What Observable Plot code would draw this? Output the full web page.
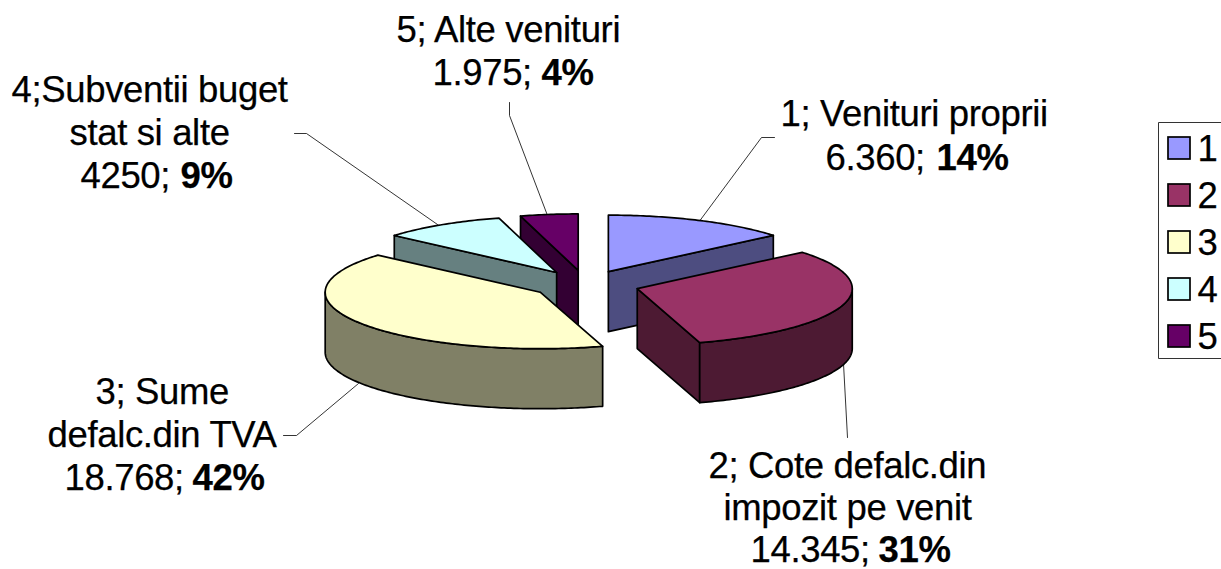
<!DOCTYPE html>
<html>
<head>
<meta charset="utf-8">
<style>html,body{margin:0;padding:0;background:#fff}svg{display:block}svg text{letter-spacing:-0.35px}</style>
<script src="https://cdn.jsdelivr.net/npm/d3@7"></script>
<script src="https://cdn.jsdelivr.net/npm/@observablehq/plot@0.6"></script>
</head>
<body>
<script>
const categories = ["1", "2", "3", "4", "5"];
const values = [6360, 14345, 18768, 4250, 1975];
const topColors = ["#9999ff", "#993366", "#ffffcc", "#ccffff", "#660066"];
const sideColors = ["#4d4d80", "#4d1a33", "#808066", "#668080", "#330033"];
const labelLines = [
  ["1; Venituri proprii"],
  ["2; Cote defalc.din", "impozit pe venit"],
  ["3; Sume", "defalc.din TVA"],
  ["4;Subventii buget", "stat si alte"],
  ["5; Alte venituri"]
];
const labelValues = ["6.360; ", "14.345; ", "18.768; ", "4250; ", "1.975; "];
const labelPercents = ["14%", "31%", "42%", "9%", "4%"];

// Layout
const W = 1221, H = 569, FS = 36.5;
const FONT = "Liberation Sans, Arial, sans-serif";
const cx = 585, cy = 284, rx = 215, ry = 56.5, depth = 60, explode = 54;
const lineAnchors = [
  [[780, 125]],
  [[708, 477], [723, 519]],
  [[95, 403], [47, 446]],
  [[11, 101], [69, 144]],
  [[396, 41]]
];
const valueAnchors = [[825, 169, 936], [750, 561, 878], [64, 489, 192], [80, 187, 180], [432, 84, 541]];
const leaders = [
  [[774, 137], [761, 137], [698, 222]],
  [[847, 437], [843, 363]],
  [[283, 435], [296, 435], [358, 383]],
  [[294, 133], [306, 133], [437, 224]],
  [[509, 102], [509, 115], [547, 215]]
];

const total = d3.sum(values);
const angles = d3.cumsum(values).map(v => v / total * 2 * Math.PI);
const slices = values.map((v, i) => {
  const a0 = i ? angles[i - 1] : 0, a1 = angles[i], mid = (a0 + a1) / 2;
  return {i, a0, a1, x0: cx + explode * Math.sin(mid), y0: cy - explode * (ry / rx) * Math.cos(mid)};
});
const rim = (s, a, dz = 0) => ({x: s.x0 + rx * Math.sin(a), y: s.y0 - ry * Math.cos(a) + dz});
const arc = (s, a0, a1, dz = 0) => {
  const n = Math.max(1, Math.ceil((a1 - a0) / 0.015));
  return d3.range(n + 1).map(k => rim(s, a0 + (a1 - a0) * k / n, dz));
};
const closed = pts => [...pts, pts[0]];
const face = (pts, fill) => Plot.line(closed(pts), {x: "x", y: "y", fill, stroke: "#000", strokeWidth: 1.7, strokeLinejoin: "round", curve: "linear"});

function sliceMarks(s) {
  const apex = {x: s.x0, y: s.y0}, low = {x: s.x0, y: s.y0 + depth}, side = sideColors[s.i], marks = [];
  const visible = [];
  if (Math.sin(s.a0) < -1e-6) visible.push(s.a0);
  if (Math.sin(s.a1) > 1e-6) visible.push(s.a1);
  for (const a of visible) marks.push(face([rim(s, a), apex, low, rim(s, a, depth)], side));
  const f0 = Math.max(s.a0, Math.PI / 2), f1 = Math.min(s.a1, 3 * Math.PI / 2);
  if (f1 > f0) marks.push(face([...arc(s, f0, f1), ...arc(s, f0, f1, depth).reverse()], side));
  marks.push(face([apex, ...arc(s, s.a0, s.a1)], topColors[s.i]));
  return marks;
}

const drawOrder = [4, 0, 3, 2, 1];
const textOpts = {x: "x", y: "y", text: "t", textAnchor: "start", lineAnchor: "bottom", fontFamily: FONT, fontSize: FS, fill: "#000", stroke: "#000", strokeWidth: 0.25};

const plainRows = [];
labelLines.forEach((ls, i) => ls.forEach((t, j) => plainRows.push({t, x: lineAnchors[i][j][0], y: lineAnchors[i][j][1]})));
labelValues.forEach((t, i) => plainRows.push({t: t.trimEnd(), x: valueAnchors[i][0], y: valueAnchors[i][1]}));
const boldRows = labelPercents.map((t, i) => ({t, x: valueAnchors[i][2], y: valueAnchors[i][1]}));

const legend = {left: 1158, top: 122, bottom: 358, swX: 1168, sw: 22, first: 148, step: 47, textX: 1197, base: 160};
const legendRows = categories.map((c, i) => ({c, i, y: legend.first + i * legend.step}));

const plot = Plot.plot({
  width: W, height: H, margin: 0,
  style: {background: "#fff", overflow: "hidden"},
  x: {domain: [0, W], range: [0, W], axis: null},
  y: {domain: [0, H], range: [0, H], axis: null},
  marks: [
    ...leaders.map(l => Plot.line(l.map(([x, y]) => ({x, y})), {x: "x", y: "y", stroke: "#000", strokeWidth: 0.8, curve: "linear"})),
    ...drawOrder.flatMap(i => sliceMarks(slices[i])),
    Plot.text(plainRows, textOpts),
    Plot.text(boldRows, {...textOpts, fontWeight: "bold"}),
    Plot.line([{x: W, y: legend.top}, {x: legend.left, y: legend.top}, {x: legend.left, y: legend.bottom}, {x: W, y: legend.bottom}], {x: "x", y: "y", stroke: "#333", strokeWidth: 1, curve: "linear"}),
    Plot.rect(legendRows, {
      x1: () => legend.swX, x2: () => legend.swX + legend.sw,
      y1: d => d.y - legend.sw / 2, y2: d => d.y + legend.sw / 2,
      fill: d => topColors[d.i], stroke: "#000", strokeWidth: 1.7
    }),
    Plot.text(legendRows, {x: () => legend.textX, y: d => legend.base + d.i * legend.step, text: "c", textAnchor: "start", lineAnchor: "bottom", fontFamily: FONT, fontSize: FS, fill: "#000", stroke: "#000", strokeWidth: 0.25})
  ]
});
document.body.appendChild(plot);
</script>
</body>
</html>
